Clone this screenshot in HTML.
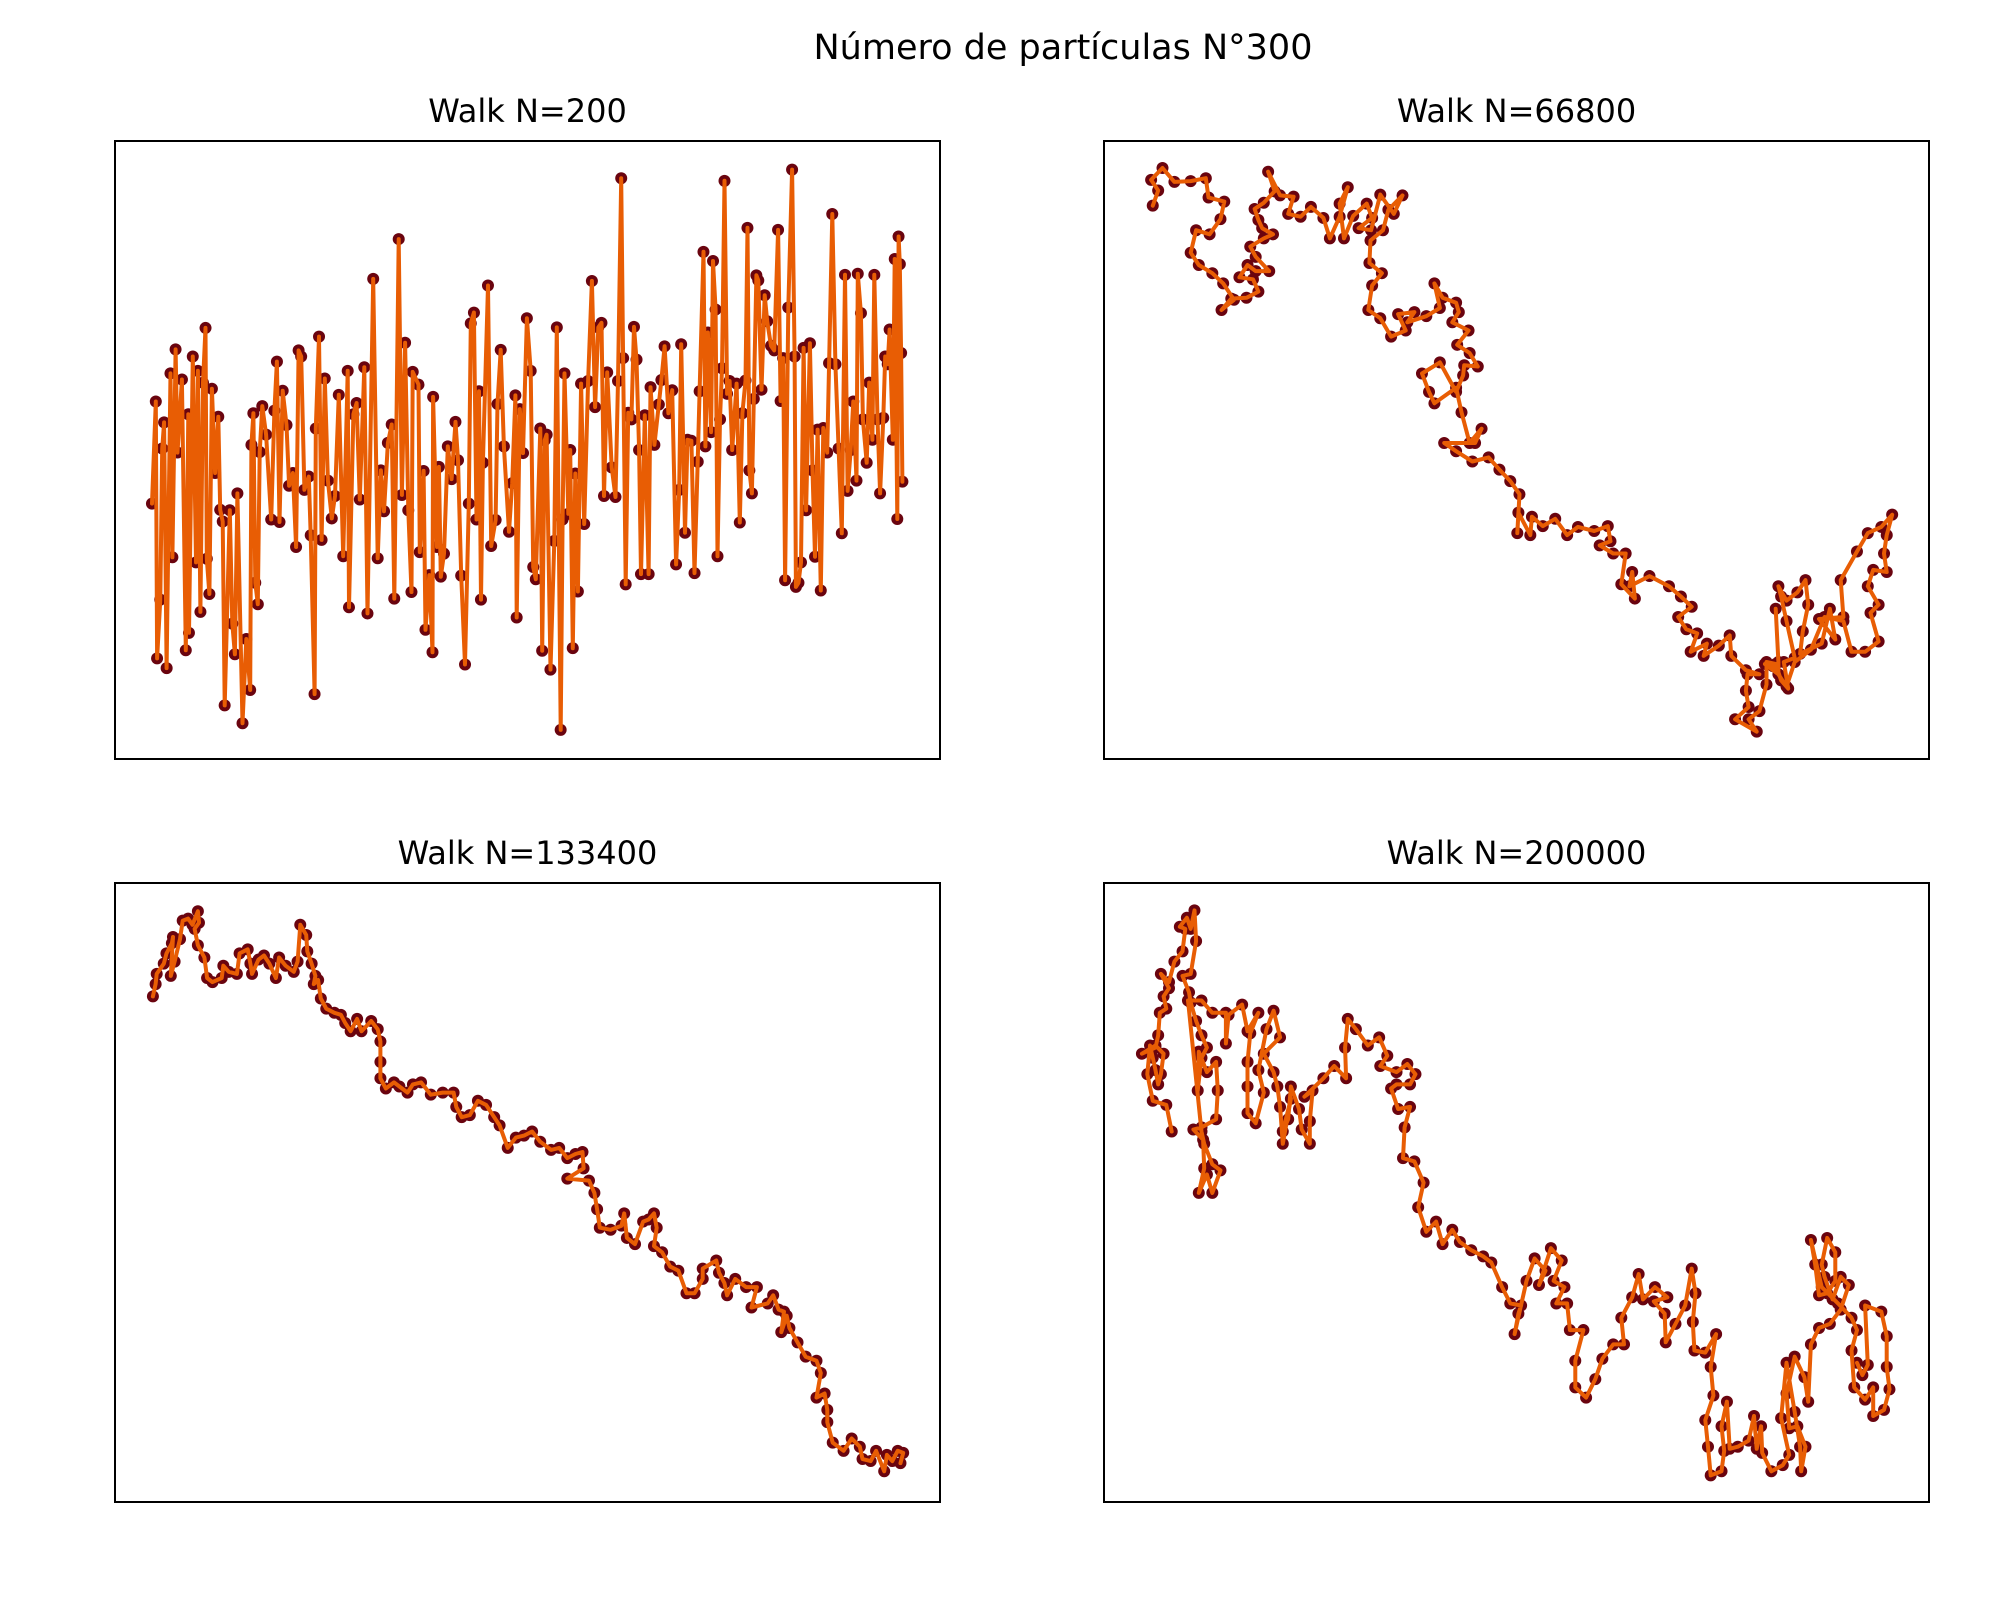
<!DOCTYPE html>
<html><head><meta charset="utf-8"><style>
html,body{margin:0;padding:0;background:#fff;}
svg{display:block;}
text{font-family:"DejaVu Sans","Liberation Sans",sans-serif;fill:#000;}
</style></head><body>
<svg id="fig" width="2000" height="1600" viewBox="0 0 2000 1600" xmlns="http://www.w3.org/2000/svg">
<rect x="0" y="0" width="2000" height="1600" fill="#fff"/>
<text x="1063" y="59" font-size="35" text-anchor="middle">Número de partículas N°300</text>
</svg>
<script>
// Panel data (in plot data units)
const titles = ["Walk N=200","Walk N=66800","Walk N=133400","Walk N=200000"];
const x1 = [236,242,244,249,252,255,259,265,268,273,276,283,289,293,294,300,305,308,312,316,320,322,326,330,335,340,343,347,350,358,362,366,370,378,384,390,392,395,398,402,405,409,415,423,428,432,436,441,447,451,457,462,466,470,475,482,485,491,493,498,502,507,512,518,523,529,536,543,545,552,557,562,569,574,583,590,595,600,606,612,616,623,628,633,638,643,645,654,656,662,665,671,676,677,683,686,689,694,700,706,712,716,721,727,733,736,741,745,749,752,755,763,768,775,778,783,788,796,801,806,808,813,818,824,830,834,838,845,848,852,855,861,867,871,877,880,883,889,892,896,900,904,909,914,920,926,931,936,941,945,950,957,963,967,972,975,979,983,988,992,996,1000,1003,1009,1015,1018,1024,1031,1035,1040,1046,1052,1058,1063,1066,1072,1076,1082,1087,1092,1095,1101,1104,1108,1113,1116,1120,1123,1127,1130,1134,1138,1142,1146,1153,1158,1162,1167,1170,1173,1177,1180,1184,1187,1192,1197,1201,1207,1212,1218,1222,1226,1229,1234,1240,1244,1246,1250,1254,1258,1262,1268,1272,1276,1280,1285,1289,1295,1298,1303,1308,1313,1318,1323,1327,1332,1336,1341,1343,1348,1351,1357,1361,1366,1369,1374,1378,1383,1386,1390,1393,1398,1401,1405,1407,1409,1411,1413];
const y1 = [985,785,1288,1173,877,826,1307,730,1090,683,885,742,1272,810,1238,697,1100,725,1197,748,641,1093,1162,760,925,815,997,1020,1380,998,1220,1280,965,1415,1250,1350,870,808,1140,1182,884,794,850,1016,803,707,1021,764,831,950,925,1070,685,697,958,932,1047,1358,838,658,1056,740,940,1014,970,772,1088,725,1188,810,788,977,718,1200,545,1092,920,1000,866,830,1171,467,968,670,998,1158,727,752,1080,921,1232,1125,1276,776,1070,913,1128,1083,873,937,825,900,1126,1300,985,632,611,1016,765,1173,905,558,1068,1017,790,684,873,1040,945,773,1208,800,886,622,725,1109,1133,838,1273,861,850,1310,1058,640,1428,1016,730,1005,880,1268,926,1157,750,1025,745,549,796,640,631,970,728,914,972,745,348,700,1143,807,820,639,703,880,1123,812,1123,757,870,791,743,677,808,763,1104,958,673,1042,860,862,1121,903,765,492,873,650,845,510,605,1088,820,720,353,770,745,880,750,1022,808,744,445,920,965,780,538,548,762,577,628,676,685,449,784,700,1135,601,331,697,1148,1140,1100,680,998,671,920,1089,840,1155,837,885,710,418,712,877,1043,537,960,880,785,940,535,612,820,905,748,860,537,820,965,817,697,712,644,860,506,1015,462,516,690,942];
const x2 = [95,105,92,113,135,165,193,198,227,220,200,175,165,180,205,225,245,222,240,268,290,280,255,270,285,310,285,275,300,317,297,290,283,300,320,308,330,355,345,368,387,410,422,440,455,440,448,465,490,500,475,498,515,540,556,530,520,497,495,518,500,493,515,535,562,548,578,565,600,625,615,630,655,660,648,678,657,680,695,670,668,655,625,592,605,615,655,665,680,702,690,633,655,685,715,735,755,772,768,770,792,795,815,838,860,880,910,935,940,920,945,968,960,985,980,975,1012,1048,1070,1090,1065,1080,1100,1088,1118,1112,1140,1160,1163,1190,1215,1193,1190,1195,1170,1210,1195,1215,1228,1228,1245,1255,1268,1260,1280,1265,1255,1250,1265,1285,1300,1305,1295,1290,1330,1345,1355,1325,1370,1365,1395,1415,1440,1460,1450,1445,1450,1425,1415,1435,1420,1435,1410,1385,1370,1335,1310,1280,1265,1240,1225,1250,1250,1245];
const y2 = [185,148,122,93,127,125,118,165,175,218,255,245,300,330,350,375,415,440,412,410,395,365,360,330,345,345,310,285,265,255,240,220,193,178,150,102,160,163,205,212,188,215,265,212,140,180,265,210,180,215,240,245,158,205,160,195,245,270,325,350,380,440,460,505,490,450,445,470,455,435,375,410,422,445,470,490,525,545,578,575,600,640,568,595,640,668,630,690,765,730,765,765,785,810,800,830,858,890,985,935,990,945,968,950,990,970,980,968,1005,1015,1035,1035,1110,1145,1080,1115,1090,1115,1140,1165,1190,1220,1230,1275,1255,1285,1260,1235,1285,1320,1330,1330,1370,1410,1440,1470,1440,1420,1355,1300,1305,1345,1365,1300,1290,1200,1140,1115,1150,1130,1100,1160,1225,1280,1255,1170,1245,1195,1190,1100,1030,985,970,940,990,1035,1080,1075,1115,1160,1180,1250,1275,1275,1200,1190,1270,1300,1360,1310,1305,1330,1300,1170];
const x3 = [85,90,92,105,110,120,122,118,125,135,140,150,158,168,170,162,168,180,185,195,212,215,225,240,245,260,265,268,280,290,300,312,318,330,345,352,357,368,370,378,385,382,390,395,405,420,432,440,450,462,470,488,500,505,505,505,515,530,540,555,565,580,598,620,640,645,655,670,685,700,715,725,740,755,770,785,800,820,835,850,865,878,880,850,890,900,905,910,930,950,955,960,975,990,1000,1010,1015,1010,1025,1040,1055,1070,1085,1100,1100,1125,1130,1140,1145,1160,1180,1200,1190,1220,1230,1240,1250,1245,1255,1260,1275,1290,1310,1318,1310,1325,1330,1330,1340,1360,1375,1390,1395,1410,1420,1435,1440,1450,1460,1470,1465];
const y3 = [290,260,235,210,185,160,145,240,205,150,105,100,115,82,110,125,165,195,245,255,245,215,230,235,185,175,210,235,200,190,210,245,195,215,230,205,115,140,180,210,240,260,250,295,320,330,335,355,375,345,375,350,370,400,450,490,515,500,510,525,505,500,530,525,525,560,585,580,545,555,585,605,660,635,630,620,645,665,660,685,675,670,710,735,740,770,810,855,860,850,820,880,895,840,835,820,855,900,915,950,960,1015,1015,980,955,935,965,990,1020,980,1000,1000,1050,1040,1020,1055,1060,1110,1070,1100,1135,1170,1180,1210,1270,1260,1300,1330,1380,1400,1370,1390,1420,1425,1400,1450,1410,1425,1400,1405,1430];
const x4 = [130,120,95,85,90,95,100,105,110,115,100,75,100,105,108,120,115,125,110,125,135,150,155,145,158,165,172,175,165,150,162,165,175,185,195,185,178,180,195,212,215,212,185,170,188,190,180,195,205,220,205,190,185,160,185,205,230,230,235,260,270,290,275,270,270,270,285,300,290,305,318,330,300,318,325,330,335,350,335,345,350,365,370,385,385,390,375,410,430,452,450,455,470,492,513,528,515,545,565,580,570,545,535,548,570,560,557,578,595,585,600,618,630,648,662,683,705,720,740,755,775,770,763,785,800,820,808,830,850,835,855,840,860,865,890,875,875,895,912,925,945,965,960,980,992,1000,1022,1045,1020,1040,1042,1060,1078,1090,1097,1092,1095,1115,1135,1125,1130,1115,1120,1125,1145,1150,1145,1155,1160,1175,1195,1205,1210,1218,1220,1237,1258,1270,1255,1265,1280,1290,1292,1300,1285,1270,1265,1280,1298,1305,1310,1325,1345,1365,1380,1365,1350,1335,1330,1340,1355,1355,1340,1325,1318,1310,1330,1360,1385,1395,1385,1390,1410,1425,1425,1445,1455,1450,1450,1440,1410,1415,1405,1395];
const y4 = [620,555,545,480,410,440,470,505,480,430,410,430,415,385,330,320,290,270,235,255,205,180,125,120,98,125,80,155,235,240,280,305,350,385,415,440,520,425,475,450,520,590,610,615,640,710,770,725,770,715,700,650,620,300,300,330,330,405,335,310,375,330,380,450,510,575,600,525,470,370,325,390,430,475,510,560,650,540,620,590,510,565,615,650,595,520,535,490,460,490,415,345,370,410,390,435,460,475,455,480,505,505,515,565,560,610,685,693,745,805,865,840,895,860,890,910,925,940,1000,1040,1045,1065,1115,985,930,960,995,905,935,985,1000,1040,1040,1105,1105,1180,1245,1270,1225,1175,1140,1140,1075,1025,968,1030,1000,1025,1035,1065,1135,1090,1045,955,1015,1085,1155,1160,1115,1195,1265,1325,1390,1460,1450,1400,1340,1280,1395,1390,1375,1315,1395,1340,1405,1450,1435,1410,1320,1185,1305,1390,1450,1390,1340,1345,1260,1170,1220,1280,1140,1100,1090,1055,995,975,1030,975,945,880,915,985,1015,1020,945,885,1000,1040,1075,1105,1155,1245,1275,1245,1315,1300,1250,1195,1120,1060,1045,1190,1215,1185];
const xs = [x1,x2,x3,x4];
const ys = [y1,y2,y3,y4];
// data-domain boxes per panel
const xDomains = [[178,1472],[5,1528],[15,1538],[5,1528]];
const yDomains = [[275,1485],[27,1537],[13,1525],[13,1525]];
</script>
<script>
const svgNS = "http://www.w3.org/2000/svg";
const fig = document.getElementById('fig');
const boxes = [[115,141,940,759],[1104,141,1929,759],[115,883,940,1502],[1104,883,1929,1502]];
const names = ['walk-200','walk-66800','walk-133400','walk-200000'];
function mk(tag, attrs){const e=document.createElementNS(svgNS,tag);for(const k in attrs)e.setAttribute(k,attrs[k]);return e;}
for(let p=0;p<4;p++){
  const [L,T,R,B]=boxes[p];
  const g=mk('g',{});
  
  
  fig.appendChild(g);
  const sx=v=>L+(v-xDomains[p][0])/(xDomains[p][1]-xDomains[p][0])*(R-L);
  const sy=v=>T+(v-yDomains[p][0])/(yDomains[p][1]-yDomains[p][0])*(B-T);
  const t=mk('text',{x:(L+R)/2,y:T-19,'font-size':32,'text-anchor':'middle'});
  t.textContent=titles[p];
  
  
  g.appendChild(t);
  const X=xs[p],Y=ys[p];
  const n=Math.min(X.length,Y.length);
  const mg=mk('g',{fill:'#6a040f'});
  
  
  g.appendChild(mg);
  let d='';
  for(let i=0;i<n;i++){
    const cx=sx(X[i]),cy=sy(Y[i]);
    const c=mk('circle',{cx:cx,cy:cy,r:6});
    
    
    mg.appendChild(c);
    d+=(i?'L':'M')+cx.toFixed(1)+','+cy.toFixed(1);
  }
  const path=mk('path',{d:d,fill:'none',stroke:'#e85d04','stroke-width':4,'stroke-linejoin':'round','stroke-linecap':'round'});
  
  
  g.appendChild(path);
  const fr=mk('rect',{x:L,y:T,width:R-L,height:B-T,fill:'none',stroke:'#000','stroke-width':2});
  
  
  g.appendChild(fr);
}
</script>
</body></html>
